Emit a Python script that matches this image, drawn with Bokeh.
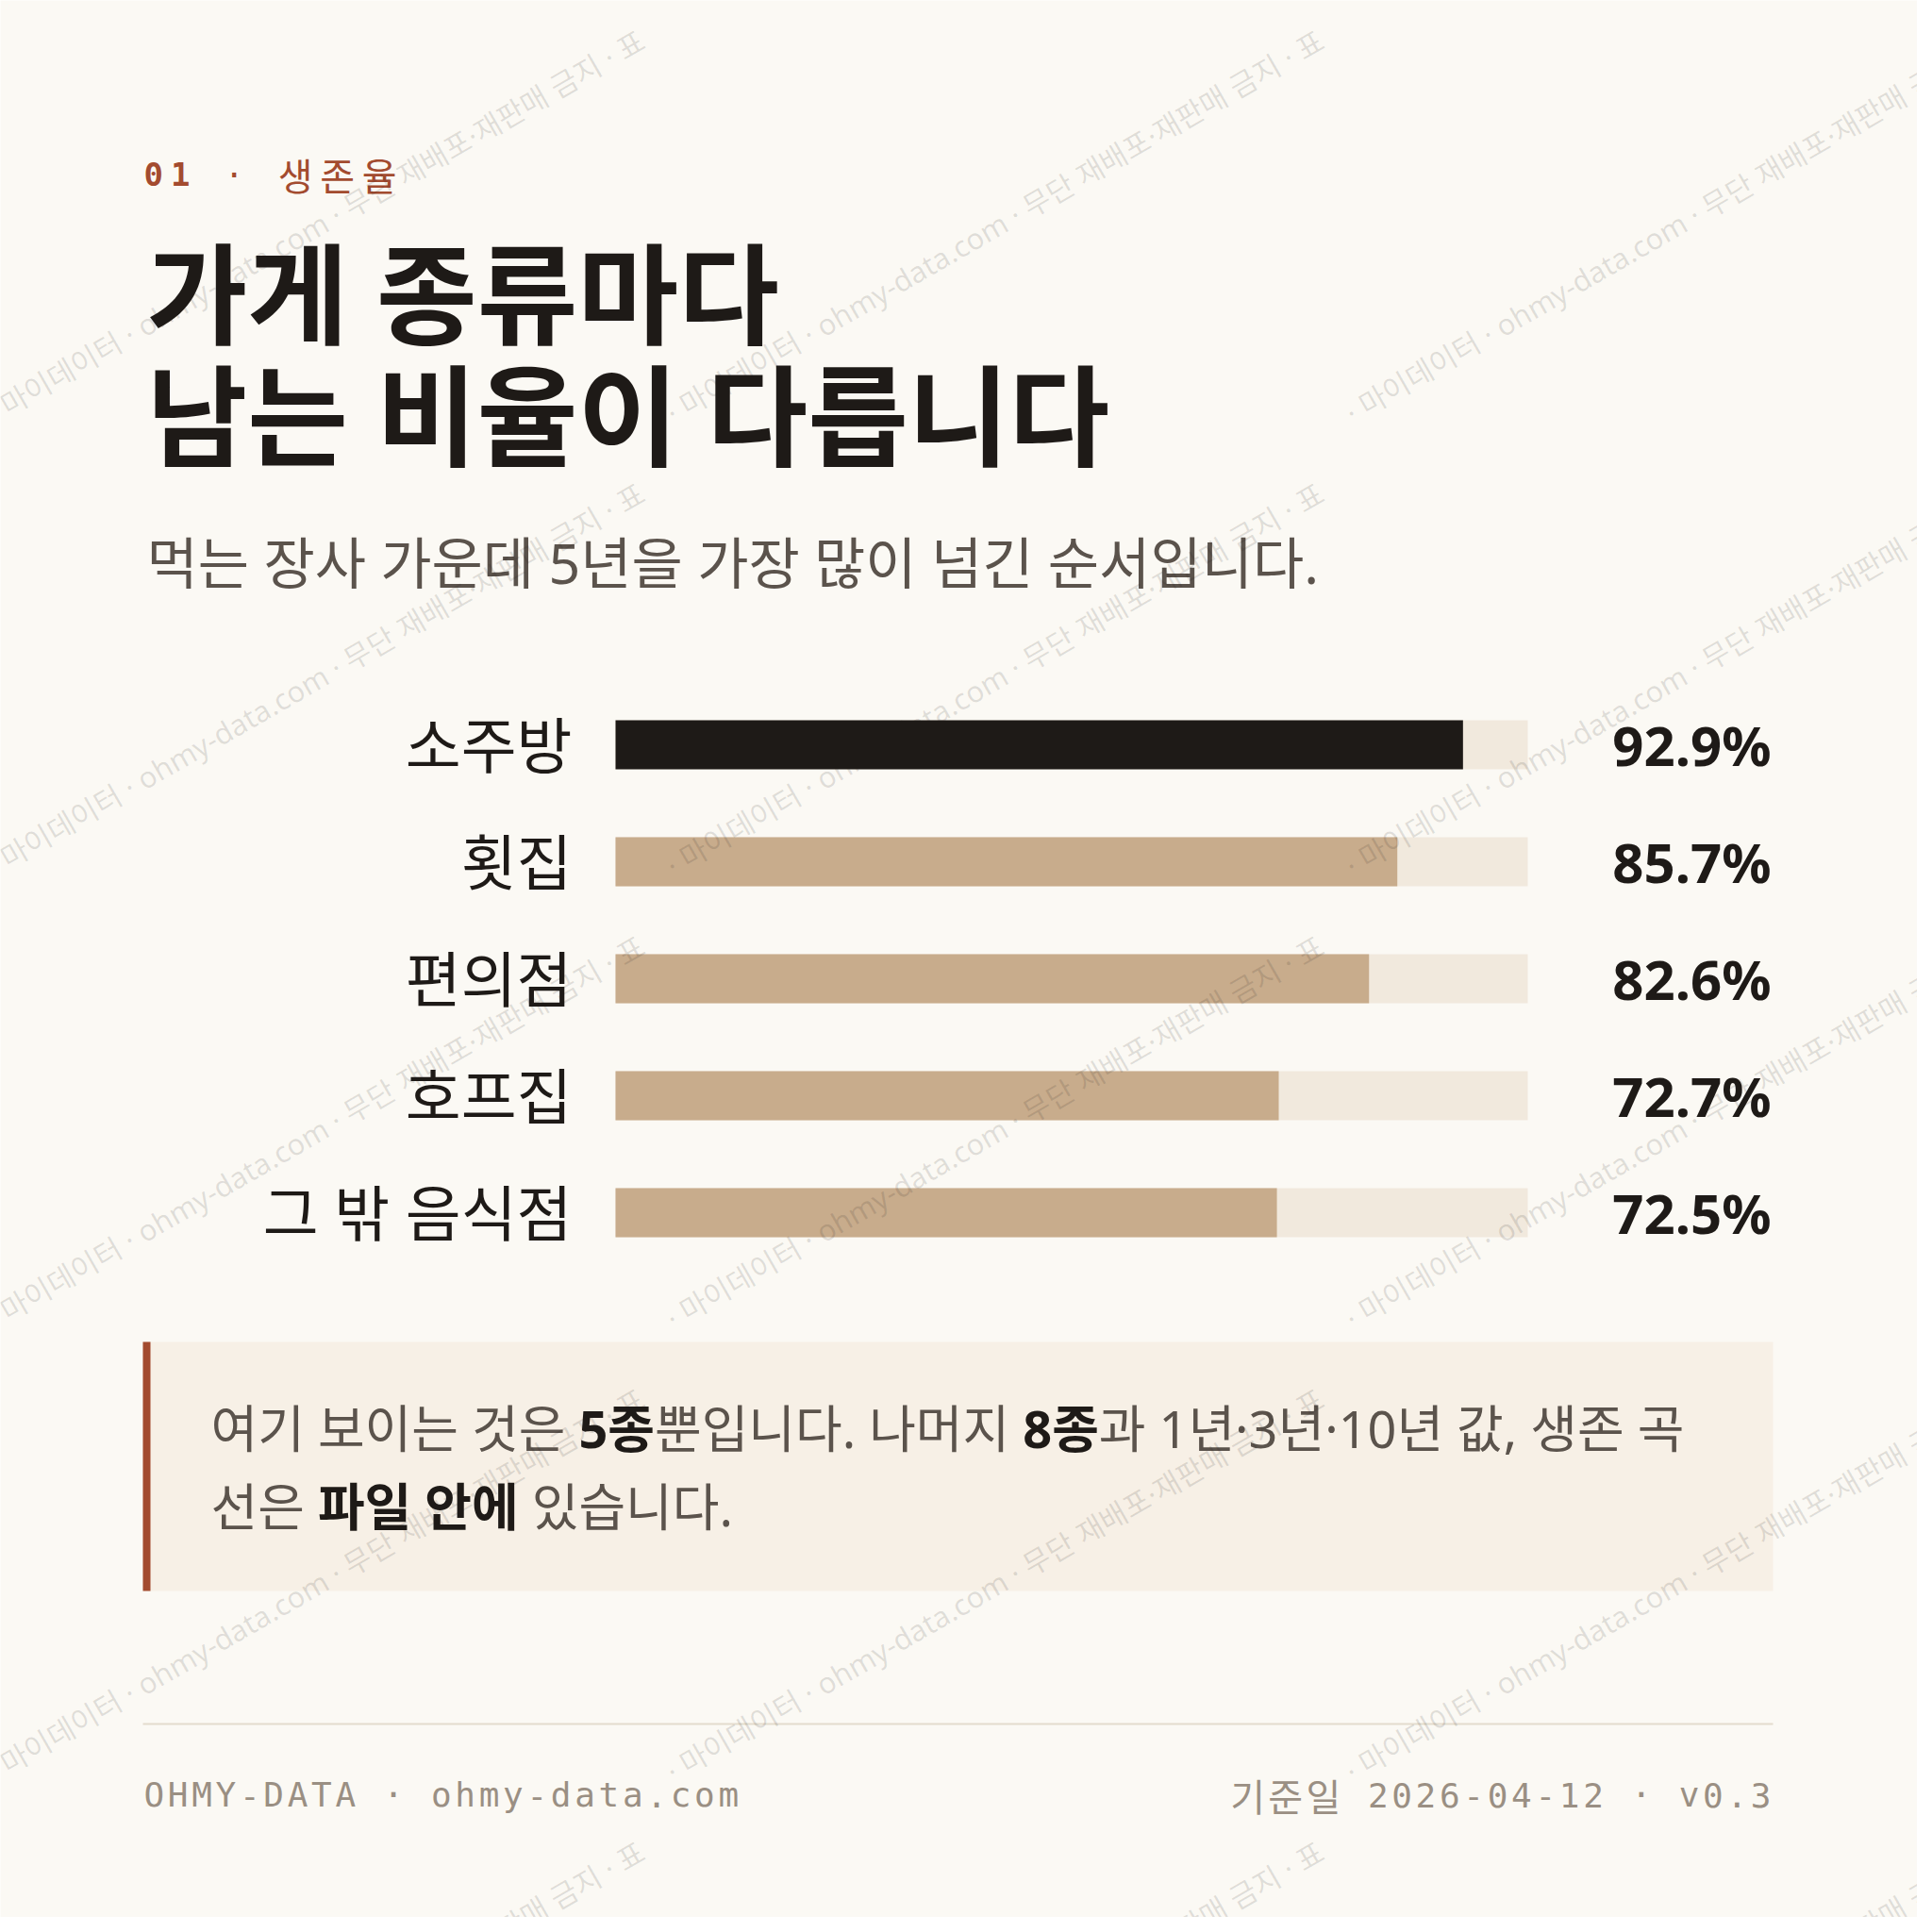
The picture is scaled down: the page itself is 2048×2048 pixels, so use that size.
from bokeh.plotting import figure
from bokeh.models import ColumnDataSource, Range1d
from bokeh.core.properties import value
from bokeh.embed import file_html
from bokeh.resources import INLINE

# data
categories = ["소주방", "횟집", "편의점", "호프집", "그 밖 음식점"]
survival_5y = [92.9, 85.7, 82.6, 72.7, 72.5]

# texts
eyebrow = "01 · 생존율"
title_lines = ["가게 종류마다", "남는 비율이 다릅니다"]
subtitle = "먹는 장사 가운데 5년을 가장 많이 넘긴 순서입니다."
note_lines = [
    [("여기 보이는 것은 ", False), ("5종", True), ("뿐입니다. 나머지 ", False),
     ("8종", True), ("과 1년·3년·10년 값, 생존 곡", False)],
    [("선은 ", False), ("파일 안에", True), (" 있습니다.", False)],
]
footer_left = "OHMY-DATA · ohmy-data.com"
footer_right = "기준일 2026-04-12 · v0.3"
watermark = "· 마이데이터 · ohmy-data.com · 무단 재배포·재판매 금지 · 표"

BG = "#FBF9F4"
INK = "#1E1A17"
GRAY = "#5B534C"
MUTED = "#9A8F83"
RUST = "#A34B2F"
TAN = "#C8AC8C"
TRACK = "#F1E9DD"
NOTE_BG = "#F7F0E6"
KOR = "Noto Sans CJK KR"
SANS = "'Noto Sans', 'Noto Sans CJK KR'"
MONO = "DejaVu Sans Mono"

# layout (page pixels)
BAR_X0, BAR_X1 = 660, 1627
ROW_Y0, ROW_STEP = 797, 124
BAR_H = 52


def is_hangul(c):
    return "\uac00" <= c <= "\ud7a3"


def em_width(s):
    w = 0.0
    for c in s:
        if is_hangul(c):
            w += 0.92
        elif c == " ":
            w += 0.26
        elif c.isdigit():
            w += 0.572
        elif c in ".,·":
            w += 0.268
        else:
            w += 0.55
    return w


p = figure(width=2032, height=2032, x_range=Range1d(8, 2040), y_range=Range1d(2040, 8),
           output_backend="svg", toolbar_location=None, x_axis_location=None,
           y_axis_location=None, min_border=0, background_fill_color=BG,
           border_fill_color=BG, outline_line_color=None)
p.grid.visible = False

px_per_pct = (BAR_X1 - BAR_X0) / 100
p.extra_x_ranges = {"pct": Range1d((8 - BAR_X0) / px_per_pct, (2040 - BAR_X0) / px_per_pct)}
p.extra_y_ranges = {"row": Range1d((2040 - ROW_Y0) / ROW_STEP, (8 - ROW_Y0) / ROW_STEP)}


def spaced(text, x, y, size, kor_size, gap, color, bold_upto=0, right=False):
    adv = [(0.91 * kor_size if is_hangul(c) else 0.602 * size) + gap for c in text]
    total = sum(adv) - gap
    cur = x - total if right else x
    xs = []
    for a in adv:
        xs.append(cur)
        cur += a
    src = ColumnDataSource(dict(
        x=xs, y=[y] * len(text), t=list(text),
        f=[KOR if is_hangul(c) else MONO for c in text],
        s=["bold" if i < bold_upto else "normal" for i in range(len(text))],
        z=[f"{kor_size if is_hangul(c) else size}px" for c in text],
    ))
    p.text(x="x", y="y", text="t", source=src, text_font="f", text_font_style="s",
           text_font_size="z", text_color=color, text_align="left",
           text_baseline="alphabetic")


# header
spaced(eyebrow, 160, 192, 34, 40, 8, RUST, bold_upto=2)
p.text(x=[163, 163], y=[318, 447], text=title_lines, text_font=value(SANS),
       text_font_style="bold", text_font_size="116px", text_color=INK,
       text_baseline="middle")
p.text(x=[163], y=[603], text=[subtitle], text_font=value(SANS), text_font_size="59px",
       text_color=GRAY, text_baseline="middle")

# bars
rows = list(range(len(categories)))
bar_colors = [INK if i == 0 else TAN for i in rows]
src = ColumnDataSource(dict(
    row=rows, cat=categories, val=survival_5y, full=[100] * len(rows),
    color=bar_colors, label=[f"{v:.1f}%" for v in survival_5y],
))
hh = BAR_H / ROW_STEP
p.hbar(y="row", left=0, right="full", height=hh, source=src, fill_color=TRACK,
       line_color=None, x_range_name="pct", y_range_name="row")
p.hbar(y="row", left=0, right="val", height=hh, source=src, fill_color="color",
       line_color=None, x_range_name="pct", y_range_name="row")
p.text(x=614, y="row", text="cat", source=src, y_range_name="row",
       text_font=value(SANS), text_font_size="64px", text_color=INK,
       text_align="right", text_baseline="middle")
p.text(x=1885, y="row", text="label", source=src, y_range_name="row",
       text_font=value("Noto Sans"), text_font_style="bold", text_font_size="58px",
       text_color=INK, text_align="right", text_baseline="middle")

# note box
p.quad(left=[159], right=[1887], top=[1430], bottom=[1694], fill_color=NOTE_BG, line_color=None)
p.quad(left=[159], right=[167], top=[1430], bottom=[1694], fill_color=RUST, line_color=None)
NOTE_SIZE = 54
for line, ly in zip(note_lines, [1521, 1604]):
    cur = 231
    for run, bold in line:
        stripped = run.strip()
        lead = len(run) - len(run.lstrip())
        x = cur + lead * 0.26 * NOTE_SIZE
        p.text(x=[x], y=[ly], text=[stripped], text_font=value(SANS),
               text_font_style="bold" if bold else "normal",
               text_font_size=f"{NOTE_SIZE}px", text_color=INK if bold else GRAY,
               text_baseline="middle")
        cur += em_width(run) * NOTE_SIZE

# footer
p.segment(x0=[159], x1=[1887], y0=[1835], y1=[1835], line_color="#E4DCCD", line_width=2)
spaced(footer_left, 160, 1910, 36, 40, 3.7, MUTED)
spaced(footer_right, 1885, 1910, 36, 40, 3.7, MUTED, right=True)

# watermark tiles
wx, wy = [], []
for ty in [447, 927, 1407, 1887, 2367]:
    for tx in [-720, 0, 720, 1440]:
        wx.append(tx - 4)
        wy.append(ty)
p.text(x=wx, y=wy, text=[watermark] * len(wx), angle=30, angle_units="deg",
       text_font=value(SANS), text_font_size="31px", text_color=INK, text_alpha=0.13,
       text_baseline="alphabetic")

open("out.html", "w").write(file_html(p, INLINE))
